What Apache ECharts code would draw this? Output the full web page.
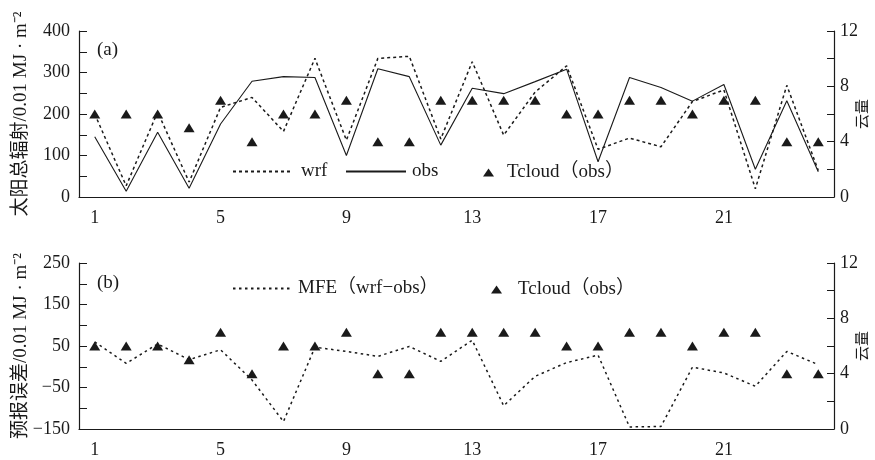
<!DOCTYPE html>
<html>
<head>
<meta charset="utf-8">
<script src="https://cdn.jsdelivr.net/npm/echarts@6/dist/echarts.min.js"></script>
<style>
html,body{margin:0;padding:0;background:#fff;}
#chart{width:875px;height:460px;}
</style>
</head>
<body>
<div id="chart"></div>
<script>
const days = ['1','2','3','4','5','6','7','8','9','10','11','12','13','14','15','16','17','18','19','20','21','22','23','24'];
const wrf = [200, 27, 205, 36, 216, 240, 158, 334, 137, 334, 339, 140, 326, 149, 253, 316, 115, 142, 121, 230, 258, 20, 269, 64];
const obs = [145, 14, 156, 21, 176, 279, 290, 288, 100, 309, 290, 125, 262, 249, 278, 308, 85, 288, 264, 231, 271, 67, 232, 61];
const mfe = [60, 8, 55, 17, 41, -32, -132, 47, 37, 25, 49, 13, 64, -94, -23, 10, 28, -145, -144, -1, -15, -47, 37, 5];
const tcloud = [6, 6, 6, 5, 7, 4, 6, 6, 7, 4, 4, 7, 7, 7, 7, 6, 6, 7, 7, 6, 7, 7, 4, 4];

const leftTicksTop = [0, 100, 200, 300, 400];
const leftTicksBottom = [-150, -50, 50, 150, 250];
const rightTicks = [0, 4, 8, 12];

const FONT = "'Liberation Serif', 'Noto Sans CJK SC', serif";
const INK = '#1a1a1a';

function xAxisCfg(gridIndex) {
  return {
    type: 'category', gridIndex: gridIndex, data: days, boundaryGap: true,
    axisLine: { onZero: false, lineStyle: { color: INK, width: 1.2 } },
    axisTick: { inside: true, length: 5, interval: 0, lineStyle: { color: INK } },
    axisLabel: { interval: 3, margin: 12, color: INK, fontSize: 18, fontFamily: FONT },
    splitLine: { show: false }
  };
}
function leftAxisCfg(gridIndex, min, max, labels, name) {
  return {
    type: 'value', gridIndex: gridIndex, position: 'left', min: min, max: max, interval: 50,
    name: name, nameLocation: 'middle', nameGap: 48, nameMoveOverlap: false,
    nameTextStyle: { fontSize: 19, color: INK, fontFamily: FONT },
    axisLine: { show: true, onZero: false, lineStyle: { color: INK, width: 1.2 } },
    axisTick: { show: true, inside: true, length: 8, lineStyle: { color: INK } },
    axisLabel: { margin: 9, color: INK, fontSize: 18, fontFamily: FONT,
      formatter: v => labels.indexOf(v) >= 0 ? String(v).replace('-', '\u2212') : '' },
    splitLine: { show: false }
  };
}
function rightAxisCfg(gridIndex) {
  return {
    type: 'value', gridIndex: gridIndex, position: 'right', min: 0, max: 12, interval: 2,
    name: '云量', nameLocation: 'middle', nameGap: 22, nameMoveOverlap: false,
    nameTextStyle: { fontSize: 15, color: INK, fontFamily: FONT },
    axisLine: { show: true, onZero: false, lineStyle: { color: INK, width: 1.2 } },
    axisTick: { show: true, inside: true, length: 7, lineStyle: { color: INK } },
    axisLabel: { margin: 6, color: INK, fontSize: 18, fontFamily: FONT,
      formatter: v => rightTicks.indexOf(v) >= 0 ? String(v) : '' },
    splitLine: { show: false }
  };
}
function legendCfg(name, left, top, w, h, pad, hideSymbol) {
  const cfg = {
    data: [name], left: left, top: top, padding: 0, itemWidth: w, itemHeight: h,
    symbolKeepAspect: false, selectedMode: false,
    textStyle: { fontSize: 19, color: INK, fontFamily: FONT, padding: [0, 0, 0, pad] }
  };
  if (hideSymbol) cfg.itemStyle = { opacity: 0 };
  return cfg;
}

const chart = echarts.init(document.getElementById('chart'));
chart.setOption({
  animation: false,
  backgroundColor: '#fff',
  title: [
    { text: '(a)', left: 97, top: 41, padding: 0, textStyle: { fontSize: 19, fontWeight: 'normal', color: INK, fontFamily: FONT } },
    { text: '(b)', left: 97, top: 274, padding: 0, textStyle: { fontSize: 19, fontWeight: 'normal', color: INK, fontFamily: FONT } }
  ],
  legend: [
    legendCfg('wrf', 232, 162, 58, 10, 5, true),
    legendCfg('obs', 345, 162, 60, 10, 1, true),
    legendCfg('Tcloud（obs）', 483, 163, 11, 8, 8, false),
    legendCfg('MFE（wrf\u2212obs）', 232, 279, 58, 10, 2, true),
    legendCfg('Tcloud（obs） ', 491, 280, 11, 8, 11, false)
  ],
  grid: [
    { left: 79, top: 31, width: 755, height: 166, outerBoundsMode: 'none', containLabel: false },
    { left: 79, top: 263, width: 755, height: 166, outerBoundsMode: 'none', containLabel: false }
  ],
  xAxis: [xAxisCfg(0), xAxisCfg(1)],
  yAxis: [
    leftAxisCfg(0, 0, 400, leftTicksTop, '太阳总辐射/0.01 MJ · m⁻²'),
    rightAxisCfg(0),
    leftAxisCfg(1, -150, 250, leftTicksBottom, '预报误差/0.01 MJ · m⁻²'),
    rightAxisCfg(1)
  ],
  series: [
    { name: 'wrf', type: 'line', xAxisIndex: 0, yAxisIndex: 0, data: wrf, symbol: 'none',
      lineStyle: { color: INK, width: 1.5, type: [3, 3] }, itemStyle: { color: INK } },
    { name: 'obs', type: 'line', xAxisIndex: 0, yAxisIndex: 0, data: obs, symbol: 'none',
      lineStyle: { color: INK, width: 1.1, type: 'solid' }, itemStyle: { color: INK } },
    { name: 'Tcloud（obs）', type: 'scatter', xAxisIndex: 0, yAxisIndex: 1, data: tcloud,
      symbol: 'triangle', symbolSize: [11, 9], itemStyle: { color: INK, opacity: 1 } },
    { name: 'MFE（wrf\u2212obs）', type: 'line', xAxisIndex: 1, yAxisIndex: 2, data: mfe, symbol: 'none',
      lineStyle: { color: INK, width: 1.5, type: [2.5, 3.5] }, itemStyle: { color: INK } },
    { name: 'Tcloud（obs） ', type: 'scatter', xAxisIndex: 1, yAxisIndex: 3, data: tcloud,
      symbol: 'triangle', symbolSize: [11, 9], itemStyle: { color: INK, opacity: 1 } }
  ]
});
</script>
</body>
</html>
